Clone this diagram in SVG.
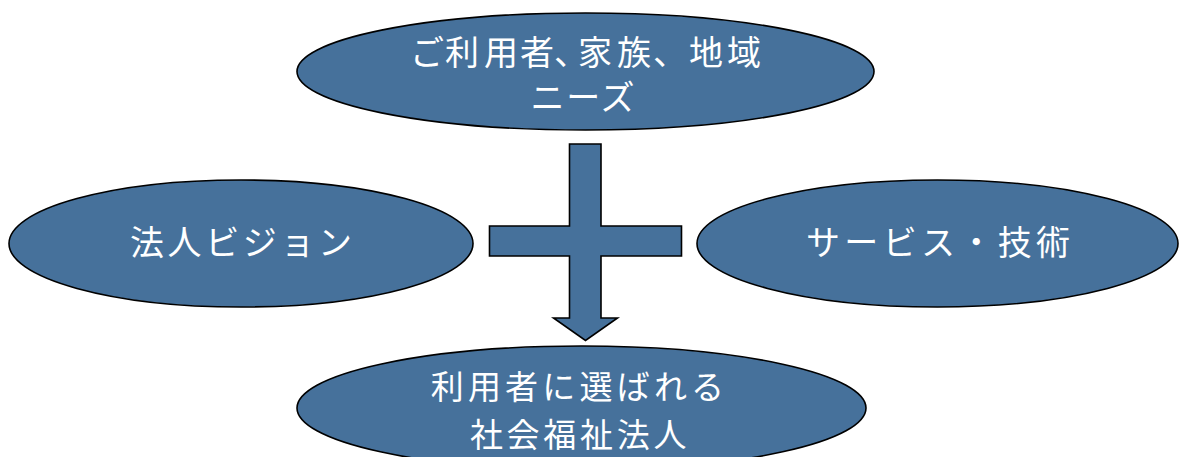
<svg xmlns="http://www.w3.org/2000/svg" width="1179" height="457" viewBox="0 0 1179 457">
  <style>
    .node { fill: #46719B; stroke: #000000; stroke-width: 1.6; }
    .label { fill: #FFFFFF; font-family: "Noto Sans CJK JP", "Noto Sans", sans-serif; font-size: 34px; text-anchor: middle; }
    .small { font-size: 33px; }
    .start { text-anchor: start; }
    .conn { fill: #46719B; stroke: #000000; stroke-width: 1.6; stroke-linejoin: miter; }
  </style>
  <rect width="1179" height="457" fill="#FFFFFF"/>
  <g id="connectors">
    <polygon class="conn" points="569.5,144 601,144 601,226 681.5,226 681.5,256 601,256 601,318 617.5,318 585.5,340.5 553.5,318 569.5,318 569.5,256 489.5,256 489.5,226 569.5,226"/>
  </g>
  <g id="node-needs">
    <ellipse class="node" cx="585.5" cy="71.5" rx="288.5" ry="58.5"/>
    <text class="label start" x="410 445 484 520 554 578 617 653 680 689 727" y="65">ご利用者、家族、 地域</text>
    <text class="label" x="582.5" y="110" textLength="104" lengthAdjust="spacing">ニーズ</text>
  </g>
  <g id="node-vision">
    <ellipse class="node" cx="241" cy="243.5" rx="232" ry="63.5"/>
    <text class="label" x="241" y="255" textLength="222" lengthAdjust="spacing">法人ビジョン</text>
  </g>
  <g id="node-service">
    <ellipse class="node" cx="937.5" cy="243.5" rx="240.5" ry="63.5"/>
    <text class="label" x="938" y="255" textLength="264" lengthAdjust="spacing">サービス・技術</text>
  </g>
  <g id="node-goal">
    <ellipse class="node" cx="581.5" cy="408" rx="284.5" ry="62"/>
    <text class="label small"><tspan x="579.5" y="399" letter-spacing="4.2">利用者に選ばれる</tspan><tspan x="580" y="447" letter-spacing="3.7">社会福祉法人</tspan></text>
  </g>
</svg>
